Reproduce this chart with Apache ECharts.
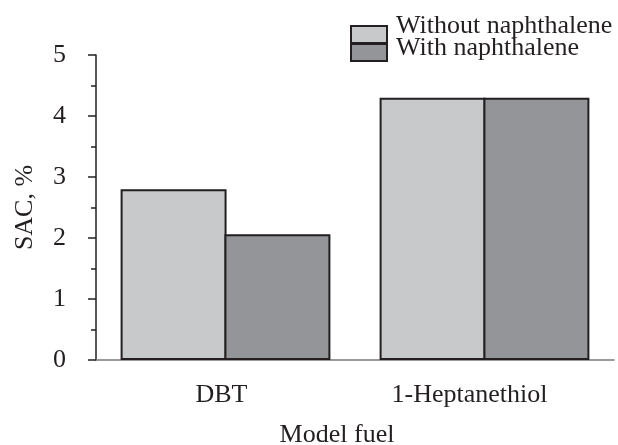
<!DOCTYPE html>
<html>
<head>
<meta charset="utf-8">
<script src="https://cdn.jsdelivr.net/npm/echarts@6/dist/echarts.min.js"></script>
<style>html,body{margin:0;padding:0;background:#fff;}#c{width:618px;height:445px;}</style>
</head>
<body>
<div id="c"></div>
<script>
var categories = ['DBT', '1-Heptanethiol'];
var seriesNames = ['Without naphthalene', 'With naphthalene'];
var withoutNaphthalene = [2.8, 4.3];
var withNaphthalene = [2.06, 4.3];
var yTicks = [0, 1, 2, 3, 4, 5];

var FONT = '"Liberation Serif", "Times New Roman", serif';
var INK = '#231f20';
var labelShift = [8, 30];
var chart = echarts.init(document.getElementById('c'), null, {renderer: 'canvas'});

function legendFor(name, top, showIcon, showText) {
  return {
    orient: 'vertical',
    left: 350,
    top: top,
    padding: 0,
    selectedMode: false,
    itemWidth: 36,
    itemHeight: 17,
    icon: 'rect',
    itemStyle: showIcon ? {borderColor: INK, borderWidth: 2} : {opacity: 0, borderWidth: 0},
    textStyle: {fontFamily: FONT, fontSize: 26, color: showText ? INK : 'rgba(0,0,0,0)', lineHeight: 26, padding: [0, 0, 0, 5]},
    data: [name]
  };
}

chart.setOption({
  animation: false,
  backgroundColor: '#ffffff',
  textStyle: {fontFamily: FONT, color: INK},
  legend: [
    legendFor(seriesNames[0], 21.5, true, false),
    legendFor(seriesNames[0], 13, false, true),
    legendFor(seriesNames[1], 39.5, true, false),
    legendFor(seriesNames[1], 35.5, false, true)
  ],
  grid: {left: 96, right: 4, top: 55, bottom: 85, containLabel: false, outerBoundsMode: 'none'},
  xAxis: {
    type: 'category',
    data: categories.map(function (c, i) {
      return {value: c, textStyle: {padding: [0, labelShift[i], 0, 0]}};
    }),
    name: 'Model fuel',
    nameLocation: 'middle',
    nameGap: 62,
    nameTextStyle: {fontFamily: FONT, fontSize: 26, color: INK, padding: [0, 36, 0, 0]},
    axisLine: {lineStyle: {color: '#7a7a7a', width: 1.5}},
    axisTick: {alignWithLabel: true, length: 5, lineStyle: {color: INK, width: 1.5}},
    axisLabel: {fontFamily: FONT, fontSize: 26, color: INK, margin: 22}
  },
  yAxis: {
    type: 'value',
    min: yTicks[0],
    max: yTicks[yTicks.length - 1],
    interval: 1,
    name: 'SAC, %',
    nameLocation: 'middle',
    nameGap: 58,
    nameTextStyle: {fontFamily: FONT, fontSize: 26, color: INK},
    axisLine: {show: true, lineStyle: {color: INK, width: 1.5}},
    axisTick: {show: true, length: 8, lineStyle: {color: INK, width: 1.5}},
    minorTick: {show: true, splitNumber: 2, length: 5, lineStyle: {color: INK, width: 1.5}},
    splitLine: {show: false},
    axisLabel: {fontFamily: FONT, fontSize: 26, color: INK, margin: 30}
  },
  series: [
    {
      name: seriesNames[0],
      type: 'bar',
      data: withoutNaphthalene,
      barGap: '-2%',
      barCategoryGap: '19%',
      itemStyle: {color: '#c8c9cb', borderColor: INK, borderWidth: 2}
    },
    {
      name: seriesNames[1],
      type: 'bar',
      data: withNaphthalene,
      itemStyle: {color: '#939598', borderColor: INK, borderWidth: 2}
    }
  ]
});
</script>
</body>
</html>
